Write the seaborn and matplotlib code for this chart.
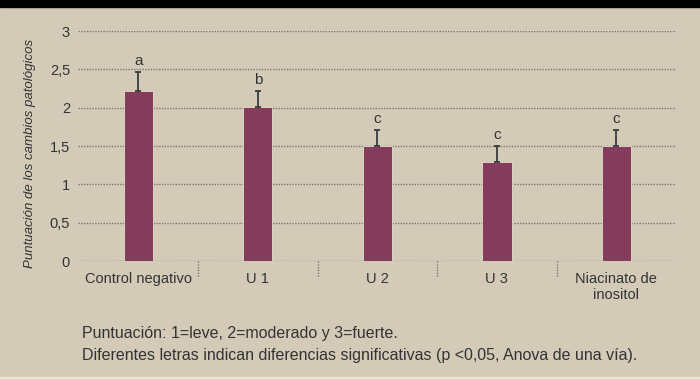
import matplotlib
matplotlib.use("Agg")
import matplotlib.pyplot as plt
import matplotlib.transforms as mtransforms
from matplotlib.patches import Rectangle
import numpy as np
import pandas as pd
import seaborn as sns

# datos
grupos = ["Control negativo", "U 1", "U 2", "U 3", "Niacinato de\ninositol"]
puntuacion = [2.22, 2.01, 1.50, 1.29, 1.50]
error_sup = [0.24, 0.21, 0.21, 0.21, 0.21]
letras = ["a", "b", "c", "c", "c"]
yticks = [0, 0.5, 1, 1.5, 2, 2.5, 3]
ytick_labels = ["0", "0,5", "1", "1,5", "2", "2,5", "3"]
nota = ("Puntuación: 1=leve, 2=moderado y 3=fuerte.\n"
        "Diferentes letras indican diferencias significativas (p <0,05, Anova de una vía).")

df = pd.DataFrame({"grupo": grupos, "puntuacion": puntuacion})

fondo = "#d3cbb8"
texto = "#333333"
sns.set_theme(style="white")
plt.rcParams["font.family"] = ["Liberation Sans", "DejaVu Sans"]

fig = plt.figure(figsize=(7, 3.79), dpi=100, facecolor=fondo)
ax = fig.add_axes([0.112, 0.311, 0.854, 0.607])
ax.set_facecolor(fondo)

# franja negra superior y clara inferior
fig.patches.append(Rectangle((0, 1 - 7 / 379), 1, 7 / 379, transform=fig.transFigure,
                             color="black", zorder=0))
fig.patches.append(Rectangle((0, 0), 1, 2 / 379, transform=fig.transFigure,
                             color="#efe6d2", zorder=0))

for y in yticks:
    ax.axhline(y, color="#7d776c", lw=1, ls=(0, (1, 1)), zorder=0)

sns.barplot(data=df, x="grupo", y="puntuacion", color="#843c5c", width=0.245,
            saturation=1, errorbar=None, edgecolor="#e9dfcb", linewidth=0.6,
            ax=ax, zorder=2)

x = np.arange(len(grupos))
ax.errorbar(x, puntuacion, yerr=[np.zeros(len(grupos)), error_sup], fmt="none",
            ecolor="#3a3a3a", elinewidth=1.3, capsize=2, capthick=1.3, zorder=3)

for i, (v, e, l) in enumerate(zip(puntuacion, error_sup, letras)):
    ax.annotate(l, (i, v + e), xytext=(0, 3), textcoords="offset points",
                ha="center", va="bottom", fontsize=11, color=texto)

# separadores bajo el eje
trans = mtransforms.blended_transform_factory(ax.transData, ax.transAxes)
for xs in np.arange(0.5, len(grupos) - 1, 1):
    ax.plot([xs, xs], [0, -16 / 230], transform=trans, color="#7d776c", lw=1,
            ls=(0, (1, 1)), clip_on=False)

ax.set_xlim(-0.5, len(grupos) - 0.5)
ax.set_ylim(0, 3)
ax.set_yticks(yticks)
ax.set_yticklabels(ytick_labels)
ax.tick_params(axis="both", length=0, labelsize=10.5, colors=texto)
ax.tick_params(axis="y", pad=6)
ax.tick_params(axis="x", pad=8)
ax.set_xlabel("")
ax.set_ylabel("Puntuación de los cambios patológicos", fontsize=9.5, style="italic",
              color=texto)
ax.yaxis.set_label_coords(-0.071, 0.47)
sns.despine(ax=ax, left=True, bottom=True)

fig.text(82 / 700, 1 - 326 / 379, nota, fontsize=11.5, color=texto, va="top",
         ha="left", linespacing=1.6)

fig.savefig("out.png", dpi=100, facecolor=fondo)
